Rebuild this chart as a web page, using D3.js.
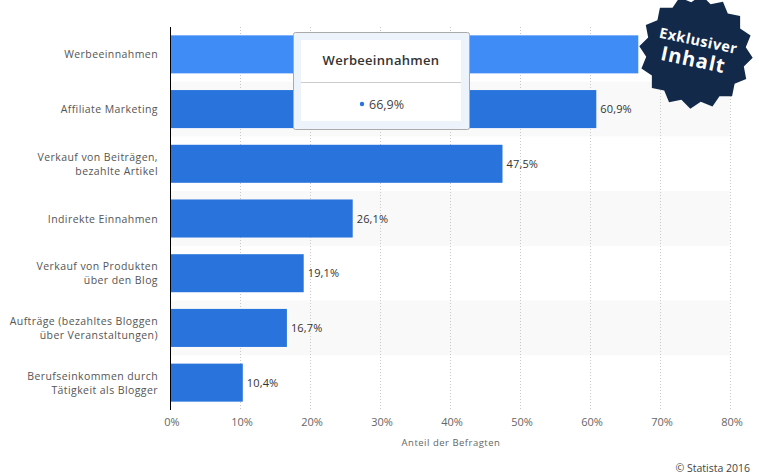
<!DOCTYPE html>
<html>
<head>
<meta charset="utf-8">
<script src="https://d3js.org/d3.v7.min.js"></script>
<style>
html,body{margin:0;padding:0;background:#fff;}
text{font-family:"Open Sans",sans-serif;}
</style>
</head>
<body>
<svg id="chart" width="759" height="474"></svg>
<script>
var categories = [
 ["Werbeeinnahmen"],
 ["Affiliate Marketing"],
 ["Verkauf von Beiträgen,","bezahlte Artikel"],
 ["Indirekte Einnahmen"],
 ["Verkauf von Produkten","über den Blog"],
 ["Aufträge (bezahltes Bloggen","über Veranstaltungen)"],
 ["Berufseinkommen durch","Tätigkeit als Blogger"]
];
var values = [66.9, 60.9, 47.5, 26.1, 19.1, 16.7, 10.4];
var ticks = [0, 10, 20, 30, 40, 50, 60, 70, 80];

function de(v){ return v.toFixed(1).replace('.', ',') + '%'; }

var svg = d3.select('#chart');
var plotLeft = 170, plotRight = 730, plotTop = 27, plotBottom = 410;

var x = d3.scaleLinear().domain([0, 80]).range([plotLeft, plotRight]);
var y = d3.scaleBand().domain(d3.range(values.length)).range([plotTop, plotBottom]).paddingInner(0.305).paddingOuter(0.1525);

// stripes behind every second row
var step = y.step();
svg.append('g').selectAll('rect')
  .data(d3.range(values.length).filter(function(i){ return i % 2 == 1; }))
  .enter().append('rect')
  .attr('x', plotLeft).attr('width', plotRight - plotLeft)
  .attr('y', function(i){ return y(i) + y.bandwidth()/2 - step/2; })
  .attr('height', step)
  .attr('fill', '#f9f9f9');

// grid
svg.append('g').selectAll('line')
  .data(ticks.slice(1))
  .enter().append('line')
  .attr('x1', function(d){ return x(d) + 0.5; }).attr('x2', function(d){ return x(d) + 0.5; })
  .attr('y1', plotTop).attr('y2', plotBottom)
  .attr('stroke', '#c8c8c8').attr('stroke-dasharray', '1,2');

// bars
svg.append('g').selectAll('rect')
  .data(values)
  .enter().append('rect')
  .attr('x', plotLeft)
  .attr('y', function(d, i){ return y(i); })
  .attr('width', function(d){ return x(d) - plotLeft; })
  .attr('height', y.bandwidth())
  .attr('fill', function(d, i){ return i == 0 ? '#408cf6' : '#2874dc'; });

// value labels, the first one sits under the badge in the original
svg.append('g').selectAll('text')
  .data(values.slice(1))
  .enter().append('text')
  .attr('x', function(d){ return x(d) + 4; })
  .attr('y', function(d, i){ return y(i + 1) + y.bandwidth()/2 + 4; })
  .attr('font-size', 11).attr('fill', '#333').attr('letter-spacing', 0.15)
  .text(de);

// axis line
svg.append('line').attr('x1', plotLeft + 0.5).attr('x2', plotLeft + 0.5).attr('y1', plotTop).attr('y2', plotBottom)
  .attr('stroke', '#000').attr('stroke-width', 1);

// category labels
var catG = svg.append('g');
categories.forEach(function(lines, i){
  var cy = y(i) + y.bandwidth()/2;
  lines.forEach(function(t, j){
    catG.append('text')
      .attr('x', 158).attr('text-anchor', 'end')
      .attr('y', cy + 4 + (j - (lines.length - 1)/2) * 14)
      .attr('font-size', 10.5).attr('fill', '#555').attr('letter-spacing', 0.42)
      .text(t);
  });
});

// x axis
var axis = d3.axisBottom(x).tickValues(ticks).tickSize(0).tickPadding(0)
  .tickFormat(function(d){ return d + '%'; });
var ax = svg.append('g').attr('transform', 'translate(1.5,418.5)').call(axis);
ax.select('.domain').remove();
ax.selectAll('text').attr('font-size', 11).attr('fill', '#666').style('font-family', '"Open Sans",sans-serif');

svg.append('text').attr('x', 451).attr('y', 446).attr('text-anchor', 'middle')
  .attr('font-size', 9.5).attr('fill', '#666').attr('letter-spacing', 0.5).text('Anteil der Befragten');

svg.append('text').attr('x', 750).attr('y', 472).attr('text-anchor', 'end')
  .attr('font-size', 10.5).attr('fill', '#444').text('© Statista 2016');

// tooltip
var tip = svg.append('g').attr('transform', 'translate(293,32)');
tip.append('rect').attr('x', 0.5).attr('y', 0.5).attr('width', 176).attr('height', 97).attr('rx', 2)
  .attr('fill', '#edf3fb').attr('stroke', '#aaa');
tip.append('rect').attr('x', 8).attr('y', 8).attr('width', 160).attr('height', 81).attr('fill', '#fff');
tip.append('line').attr('x1', 8).attr('x2', 168).attr('y1', 50.5).attr('y2', 50.5).attr('stroke', '#ccc');
tip.append('text').attr('x', 88).attr('y', 33).attr('text-anchor', 'middle')
  .attr('font-size', 13).attr('font-weight', 600).attr('fill', '#333').attr('letter-spacing', 0.3).text(categories[0][0]);
tip.append('circle').attr('cx', 69).attr('cy', 72).attr('r', 2.2).attr('fill', '#2874dc');
tip.append('text').attr('x', 76).attr('y', 77).attr('font-size', 12.5).attr('fill', '#444').text(de(values[0]));

// badge
var points = [];
for (var k = 0; k < 32; k++) {
  points.push([k * Math.PI / 16 + 0.1, k % 2 ? 50 : 57]);
}
var badge = svg.append('g').attr('transform', 'translate(696,52)');
badge.append('path').attr('d', d3.lineRadial().curve(d3.curveLinearClosed)(points)).attr('fill', '#12294a');
var bt = badge.append('g').attr('transform', 'rotate(12)');
bt.append('text').attr('x', 0).attr('y', -6.5).attr('text-anchor', 'middle')
  .attr('font-size', 14.5).attr('font-weight', 700).attr('fill', '#fff').attr('letter-spacing', 0.5).text('Exklusiver');
bt.append('text').attr('x', -1).attr('y', 15).attr('text-anchor', 'middle')
  .attr('font-size', 20).attr('font-weight', 700).attr('fill', '#fff').attr('letter-spacing', 1).text('Inhalt');
</script>
</body>
</html>
